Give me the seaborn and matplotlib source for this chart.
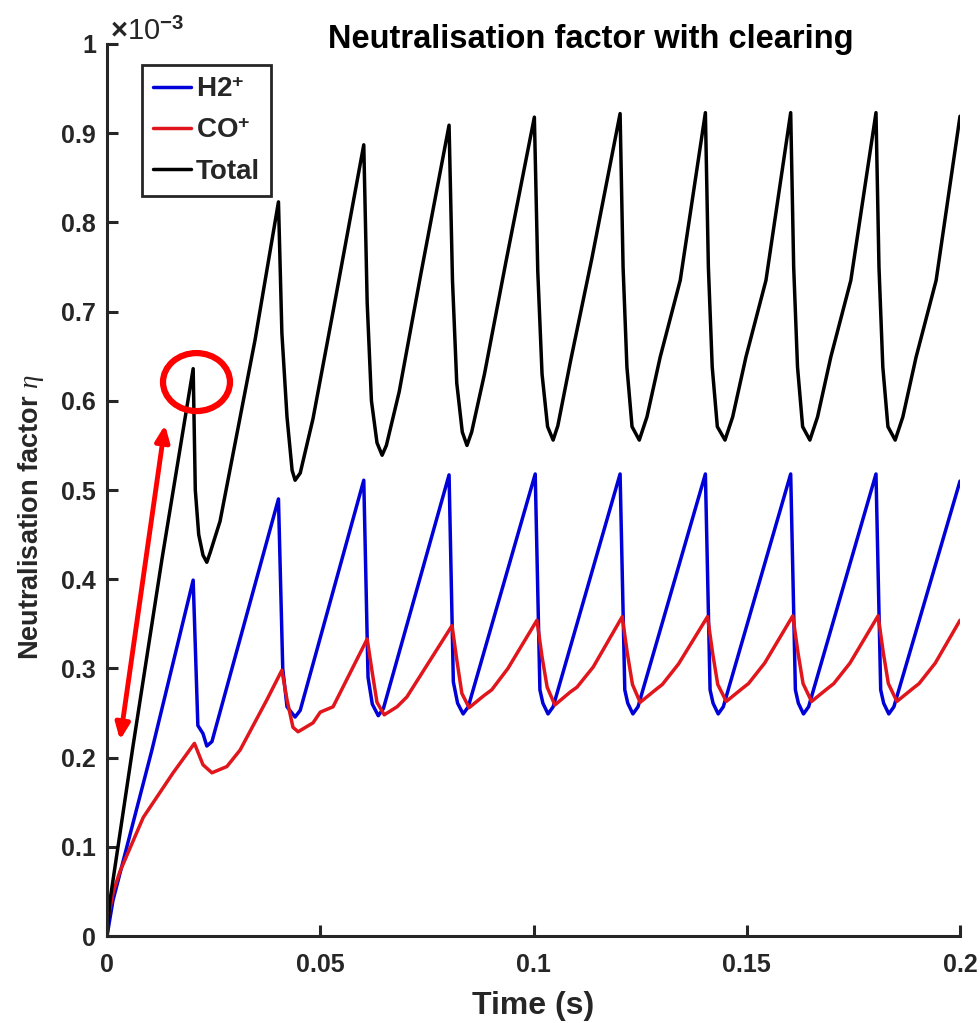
import matplotlib
matplotlib.use("Agg")
import matplotlib.pyplot as plt
import seaborn as sns
import pandas as pd
from matplotlib.patches import Ellipse

# ---- data (values in units of 1e-3) ----
t_total = [0, 0.0007, 0.006, 0.0129, 0.0202,
           0.0207, 0.0215, 0.0225, 0.0234, 0.0242, 0.0265, 0.0347, 0.0402,
           0.0410, 0.0422, 0.0434, 0.0441, 0.0453, 0.0483, 0.0530, 0.0602,
           0.0610, 0.0620, 0.0633, 0.0645, 0.0655, 0.0685, 0.0735, 0.0802,
           0.0810, 0.0820, 0.0833, 0.0844, 0.0855, 0.0885, 0.0935, 0.1002,
           0.1010, 0.1020, 0.1033, 0.1046, 0.1057, 0.1087, 0.1137, 0.1203,
           0.1210, 0.1219, 0.1231, 0.1248, 0.1266, 0.1297, 0.1344, 0.1403,
           0.1410, 0.1419, 0.1431, 0.1449, 0.1467, 0.1498, 0.1545, 0.1603,
           0.1610, 0.1619, 0.1631, 0.1648, 0.1666, 0.1697, 0.1744, 0.1803,
           0.1810, 0.1819, 0.1831, 0.1848, 0.1866, 0.1897, 0.1944, 0.2000]
v_total = [0, 0.04, 0.21, 0.423, 0.636,
           0.50, 0.45, 0.427, 0.419, 0.43, 0.465, 0.668, 0.823,
           0.676, 0.582, 0.522, 0.511, 0.519, 0.58, 0.70, 0.887,
           0.71, 0.60, 0.553, 0.539, 0.55, 0.61, 0.74, 0.909,
           0.735, 0.62, 0.565, 0.550, 0.565, 0.63, 0.755, 0.918,
           0.745, 0.63, 0.571, 0.556, 0.572, 0.645, 0.76, 0.922,
           0.75, 0.638, 0.571, 0.556, 0.582, 0.649, 0.735, 0.923,
           0.75, 0.638, 0.571, 0.556, 0.582, 0.649, 0.735, 0.923,
           0.75, 0.638, 0.571, 0.556, 0.582, 0.649, 0.735, 0.923,
           0.75, 0.638, 0.571, 0.556, 0.582, 0.649, 0.735, 0.919]

t_h2 = [0, 0.0014, 0.0105, 0.0202,
        0.0213, 0.0225, 0.0234, 0.0246, 0.0402,
        0.0412, 0.0422, 0.0441, 0.0453, 0.0602,
        0.0612, 0.0622, 0.0636, 0.0648, 0.0802,
        0.0812, 0.0822, 0.0835, 0.0847, 0.1004,
        0.1015, 0.1022, 0.1034, 0.1046, 0.1203,
        0.1214, 0.1221, 0.1233, 0.1245, 0.1403,
        0.1414, 0.1421, 0.1433, 0.1445, 0.1603,
        0.1614, 0.1621, 0.1633, 0.1645, 0.1803,
        0.1814, 0.1821, 0.1833, 0.1845, 0.2000]
v_h2 = [0, 0.04, 0.208, 0.399,
        0.236, 0.227, 0.213, 0.218, 0.490,
        0.30, 0.257, 0.2455, 0.253, 0.511,
        0.29, 0.26, 0.247, 0.255, 0.517,
        0.285, 0.261, 0.249, 0.257, 0.518,
        0.276, 0.261, 0.249, 0.257, 0.518,
        0.276, 0.261, 0.249, 0.257, 0.518,
        0.276, 0.261, 0.249, 0.257, 0.518,
        0.276, 0.261, 0.249, 0.257, 0.518,
        0.276, 0.261, 0.249, 0.257, 0.510]

t_co = [0, 0.0003, 0.0015, 0.003, 0.0085, 0.0155, 0.0205,
        0.0225, 0.0246, 0.0281, 0.0312, 0.0375, 0.0410,
        0.0422, 0.0436, 0.0448, 0.0483, 0.0500, 0.0530, 0.0610,
        0.0622, 0.0633, 0.0650, 0.0680, 0.0703, 0.0809,
        0.0820, 0.0832, 0.0849, 0.0885, 0.0902, 0.0940, 0.1008,
        0.1020, 0.1032, 0.1050, 0.1086, 0.1102, 0.1140, 0.1208,
        0.1220, 0.1232, 0.1250, 0.1286, 0.1302, 0.1340, 0.1408,
        0.1420, 0.1432, 0.1452, 0.1488, 0.1504, 0.1542, 0.1608,
        0.1620, 0.1632, 0.1652, 0.1688, 0.1704, 0.1742, 0.1808,
        0.1820, 0.1832, 0.1852, 0.1888, 0.1904, 0.1942, 0.2000]
v_co = [0, 0.022, 0.050, 0.072, 0.133, 0.183, 0.216,
        0.192, 0.183, 0.19, 0.2085, 0.265, 0.298,
        0.265, 0.234, 0.229, 0.239, 0.251, 0.257, 0.333,
        0.295, 0.262, 0.248, 0.257, 0.268, 0.348,
        0.31, 0.272, 0.256, 0.27, 0.276, 0.30, 0.354,
        0.313, 0.279, 0.259, 0.2735, 0.279, 0.3016, 0.358,
        0.317, 0.282, 0.262, 0.276, 0.282, 0.305, 0.358,
        0.317, 0.282, 0.263, 0.277, 0.283, 0.306, 0.359,
        0.318, 0.283, 0.263, 0.277, 0.283, 0.306, 0.359,
        0.318, 0.283, 0.263, 0.277, 0.283, 0.306, 0.354]

series_labels = ["H2$^{\\mathbf{+}}$", "CO$^{\\mathbf{+}}$", "Total"]
series_colors = ["#0000D8", "#E0161C", "#000000"]

x_ticks = [0, 0.05, 0.1, 0.15, 0.2]
x_ticklabels = ["0", "0.05", "0.1", "0.15", "0.2"]
y_ticks = [0, 0.1, 0.2, 0.3, 0.4, 0.5, 0.6, 0.7, 0.8, 0.9, 1.0]
y_ticklabels = ["0", "0.1", "0.2", "0.3", "0.4", "0.5", "0.6", "0.7", "0.8", "0.9", "1"]

# annotation anchors (data coords)
circle_center = (0.02098, 0.621)
arrow_start = (0.00305, 0.2197)
arrow_end = (0.0136, 0.573)

# ---- plotting ----
sns.set_theme(style="ticks")
plt.rcParams["font.family"] = ["Liberation Sans", "DejaVu Sans"]
plt.rcParams["mathtext.fontset"] = "custom"
plt.rcParams["mathtext.rm"] = "Liberation Sans:bold"
plt.rcParams["mathtext.bf"] = "Liberation Sans:bold"
plt.rcParams["mathtext.it"] = "Liberation Serif:italic"

fig = plt.figure(figsize=(9.8, 10.23), dpi=100)
ax = fig.add_axes([0.1092, 0.0850, 0.8704, 0.8720])

dfs = [
    pd.DataFrame({"t": t_h2, "v": v_h2}),
    pd.DataFrame({"t": t_co, "v": v_co}),
    pd.DataFrame({"t": t_total, "v": v_total}),
]
for df, lab, col in zip(dfs, series_labels, series_colors):
    sns.lineplot(data=df, x="t", y="v", ax=ax, color=col, linewidth=2.5,
                 label=lab, sort=False, estimator=None)

ax.set_xlim(0, 0.2)
ax.set_ylim(0, 1.0)
ax.set_xticks(x_ticks)
ax.set_xticklabels(x_ticklabels)
ax.set_yticks(y_ticks)
ax.set_yticklabels(y_ticklabels)

spine_col = "#262626"
for s in ["top", "right"]:
    ax.spines[s].set_visible(False)
for s in ["left", "bottom"]:
    ax.spines[s].set_color(spine_col)
    ax.spines[s].set_linewidth(2.2)
ax.tick_params(axis="both", direction="in", length=8, width=2.2,
               color=spine_col, labelsize=18, labelcolor="#262626")
ax.tick_params(axis="x", pad=12)
ax.tick_params(axis="y", pad=8)
for lab in ax.get_xticklabels() + ax.get_yticklabels():
    lab.set_fontweight("bold")

ax.set_xlabel("Time (s)", fontsize=23, fontweight="bold", color="#262626", labelpad=10)
ax.set_ylabel("Neutralisation factor $\\eta$", fontsize=19.5, fontweight="bold",
              color="#262626")
ax.yaxis.set_label_coords(-0.072, 0.47)
ax.text(0.567, 0.988, "Neutralisation factor with clearing", transform=ax.transAxes,
        ha="center", va="bottom", fontsize=23.5, fontweight="bold", color="black")
ax.text(0.004, 0.998, "$\\times$10$^{-3}$", transform=ax.transAxes,
        ha="left", va="bottom", fontsize=21, color="#262626")

leg = ax.legend(loc="upper left", bbox_to_anchor=(0.041, 0.976), frameon=True,
                fancybox=False, handlelength=1.35, handletextpad=0.2,
                borderpad=0.4, labelspacing=0.55, borderaxespad=0,
                prop={"size": 20, "weight": "bold"})
leg.get_frame().set_edgecolor("#262626")
leg.get_frame().set_linewidth(2.0)
leg.get_frame().set_alpha(1)
for h in leg.get_lines():
    h.set_linewidth(2.5)

# red annotations
ell = Ellipse(circle_center, width=0.0157, height=0.065, fill=False,
              edgecolor="#FF0000", linewidth=4.5, zorder=5)
ax.add_patch(ell)
ax.annotate("", xy=arrow_end, xytext=arrow_start,
            arrowprops=dict(arrowstyle="<|-|>,head_length=0.8,head_width=0.35",
                            color="#FF0000", linewidth=3.5, shrinkA=0, shrinkB=0),
            zorder=5)

fig.savefig("out.png", dpi=100)
